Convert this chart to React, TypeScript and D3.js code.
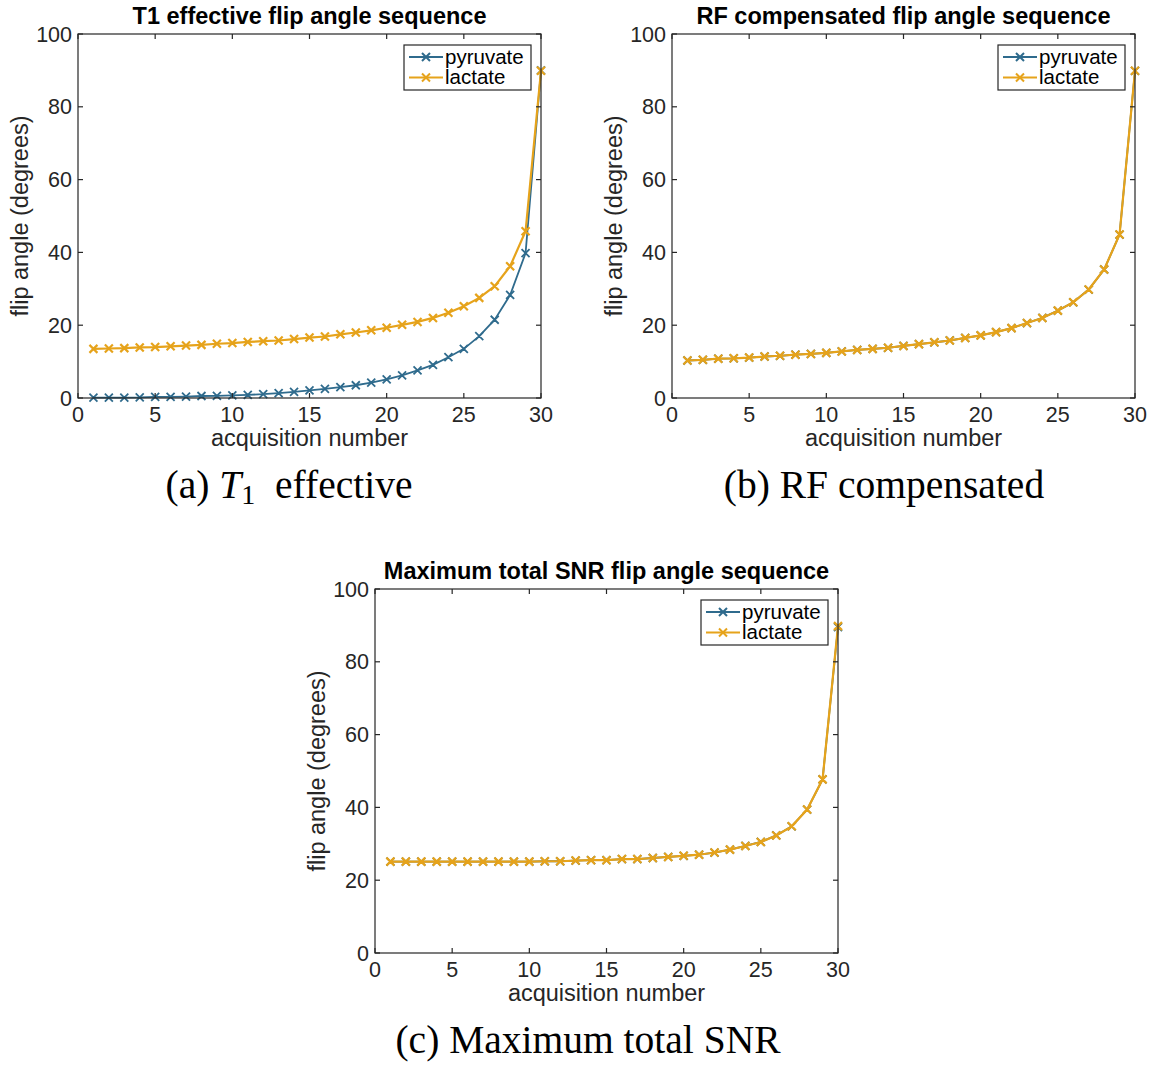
import React from "react";
import * as d3 from "d3";

const acquisitions = [1,2,3,4,5,6,7,8,9,10,11,12,13,14,15,16,17,18,19,20,21,22,23,24,25,26,27,28,29,30];
const xTicks = [0, 5, 10, 15, 20, 25, 30];
const yTicks = [0, 20, 40, 60, 80, 100];
const seriesNames = ["pyruvate", "lactate"];

const t1Pyruvate = [0.1,0.1,0.1,0.15,0.3,0.3,0.4,0.55,0.6,0.7,0.85,1.05,1.35,1.7,2.1,2.5,3.0,3.5,4.2,5.1,6.2,7.6,9.1,11.2,13.5,17.0,21.5,28.3,39.8,90.0];
const t1Lactate = [13.5,13.6,13.7,13.9,14.0,14.2,14.4,14.6,14.9,15.1,15.4,15.6,15.8,16.2,16.6,16.9,17.5,18.0,18.6,19.3,20.1,20.9,22.0,23.4,25.2,27.5,30.7,36.2,45.8,89.9];
const rfPyruvate = [10.3,10.5,10.8,10.9,11.1,11.4,11.6,11.9,12.1,12.4,12.8,13.2,13.5,13.8,14.3,14.8,15.3,15.8,16.5,17.2,18.1,19.2,20.6,22.0,24.0,26.3,29.8,35.3,44.9,89.9];
const rfLactate = [10.3,10.5,10.8,10.9,11.1,11.4,11.6,11.9,12.1,12.4,12.8,13.2,13.5,13.8,14.3,14.8,15.3,15.8,16.5,17.2,18.1,19.2,20.6,22.0,24.0,26.3,29.8,35.3,44.9,89.9];
const snrPyruvate = [25.1,25.1,25.1,25.1,25.1,25.1,25.1,25.1,25.1,25.1,25.2,25.2,25.4,25.5,25.5,25.8,25.8,26.1,26.4,26.7,27.0,27.6,28.4,29.4,30.5,32.3,34.8,39.4,47.7,89.5];
const snrLactate = [25.1,25.1,25.1,25.1,25.1,25.1,25.1,25.1,25.1,25.1,25.2,25.2,25.4,25.5,25.5,25.8,25.8,26.1,26.4,26.7,27.0,27.6,28.4,29.4,30.5,32.3,34.8,39.4,47.7,89.8];

const titles = [
  "T1 effective flip angle sequence",
  "RF compensated flip angle sequence",
  "Maximum total SNR flip angle sequence",
];

const COLORS = ["#2f6b8d", "#e6a31b"];
const WIDTHS = [1.8, 2.2];
const AXIS = "#262626";
const SANS = "'Liberation Sans', Arial, Helvetica, sans-serif";
const SERIF = "'Liberation Serif', 'Times New Roman', serif";

type PanelProps = {
  left: number;
  top: number;
  title: string;
  data: number[][];
};

function Panel({ left, top, title, data }: PanelProps) {
  const W = 463;
  const H = 364;
  const x = d3.scaleLinear().domain([0, 30]).range([0, W]);
  const y = d3.scaleLinear().domain([0, 100]).range([H, 0]);
  const line = d3
    .line<number>()
    .x((_, i) => x(acquisitions[i]))
    .y((d) => y(d));
  const tl = 5;
  const m = 4;
  const marker = (cx: number, cy: number) =>
    `M${cx - m},${cy - m}L${cx + m},${cy + m}M${cx - m},${cy + m}L${cx + m},${cy - m}`;
  const legX = W - 137;
  const legY = 11;
  return (
    <g transform={`translate(${left},${top})`}>
      <text x={W / 2} y={-10} textAnchor="middle" fontFamily={SANS} fontWeight="bold" fontSize={23.5} fill="#000">
        {title}
      </text>
      {data.map((vals, si) => (
        <g key={si}>
          <path d={line(vals) || ""} fill="none" stroke={COLORS[si]} strokeWidth={WIDTHS[si]} />
          <path
            d={vals.map((v, i) => marker(x(acquisitions[i]), y(v))).join("")}
            fill="none"
            stroke={COLORS[si]}
            strokeWidth={WIDTHS[si]}
          />
        </g>
      ))}
      <rect x={0} y={0} width={W} height={H} fill="none" stroke={AXIS} strokeWidth={1.2} />
      {xTicks.map((t) => (
        <g key={"x" + t}>
          <line x1={x(t)} x2={x(t)} y1={H} y2={H - tl} stroke={AXIS} strokeWidth={1.2} />
          <line x1={x(t)} x2={x(t)} y1={0} y2={tl} stroke={AXIS} strokeWidth={1.2} />
          <text x={x(t)} y={H + 24} textAnchor="middle" fontFamily={SANS} fontSize={21.5} fill={AXIS}>
            {t}
          </text>
        </g>
      ))}
      {yTicks.map((t) => (
        <g key={"y" + t}>
          <line x1={0} x2={tl} y1={y(t)} y2={y(t)} stroke={AXIS} strokeWidth={1.2} />
          <line x1={W} x2={W - tl} y1={y(t)} y2={y(t)} stroke={AXIS} strokeWidth={1.2} />
          <text x={-6} y={y(t) + 7.5} textAnchor="end" fontFamily={SANS} fontSize={21.5} fill={AXIS}>
            {t}
          </text>
        </g>
      ))}
      <text x={W / 2} y={H + 48} textAnchor="middle" fontFamily={SANS} fontSize={23.5} fill={AXIS}>
        acquisition number
      </text>
      <text
        transform={`translate(${-50},${H / 2}) rotate(-90)`}
        textAnchor="middle"
        fontFamily={SANS}
        fontSize={23.5}
        fill={AXIS}
      >
        flip angle (degrees)
      </text>
      <g transform={`translate(${legX},${legY})`}>
        <rect x={0} y={0} width={127} height={45} fill="#fff" stroke={AXIS} strokeWidth={1.2} />
        {seriesNames.map((name, i) => {
          const cy = 12 + i * 20.5;
          return (
            <g key={name}>
              <line x1={5} x2={39} y1={cy} y2={cy} stroke={COLORS[i]} strokeWidth={2} />
              <path d={marker(22, cy)} stroke={COLORS[i]} strokeWidth={2} fill="none" />
              <text x={41} y={cy + 6.5} fontFamily={SANS} fontSize={20.5} fill="#000">
                {name}
              </text>
            </g>
          );
        })}
      </g>
    </g>
  );
}

function Caption({ x, y, label, rest, sub }: { x: number; y: number; label: string; rest: string; sub?: boolean }) {
  return (
    <text x={x} y={y} textAnchor="middle" fontFamily={SERIF} fontSize={39.5} fill="#000">
      {sub ? (
        <>
          <tspan>{label} </tspan>
          <tspan fontStyle="italic">T</tspan>
          <tspan fontSize={28} dy={6}>1</tspan>
          <tspan dy={-6} xmlSpace="preserve">{"  " + rest}</tspan>
        </>
      ) : (
        <tspan>{label + " " + rest}</tspan>
      )}
    </text>
  );
}

export default function App() {
  return (
    <svg
      width={1160}
      height={1068}
      style={{ position: "absolute", left: 0, top: 0, background: "#fff" }}
    >
      <rect width={1160} height={1068} fill="#fff" />
      <Panel left={78} top={34} title={titles[0]} data={[t1Pyruvate, t1Lactate]} />
      <Panel left={672} top={34} title={titles[1]} data={[rfPyruvate, rfLactate]} />
      <Panel left={375} top={589} title={titles[2]} data={[snrPyruvate, snrLactate]} />
      <Caption x={289} y={498} label="(a)" rest="effective" sub />
      <Caption x={884} y={498} label="(b)" rest="RF compensated" />
      <Caption x={588} y={1053} label="(c)" rest="Maximum total SNR" />
    </svg>
  );
}
